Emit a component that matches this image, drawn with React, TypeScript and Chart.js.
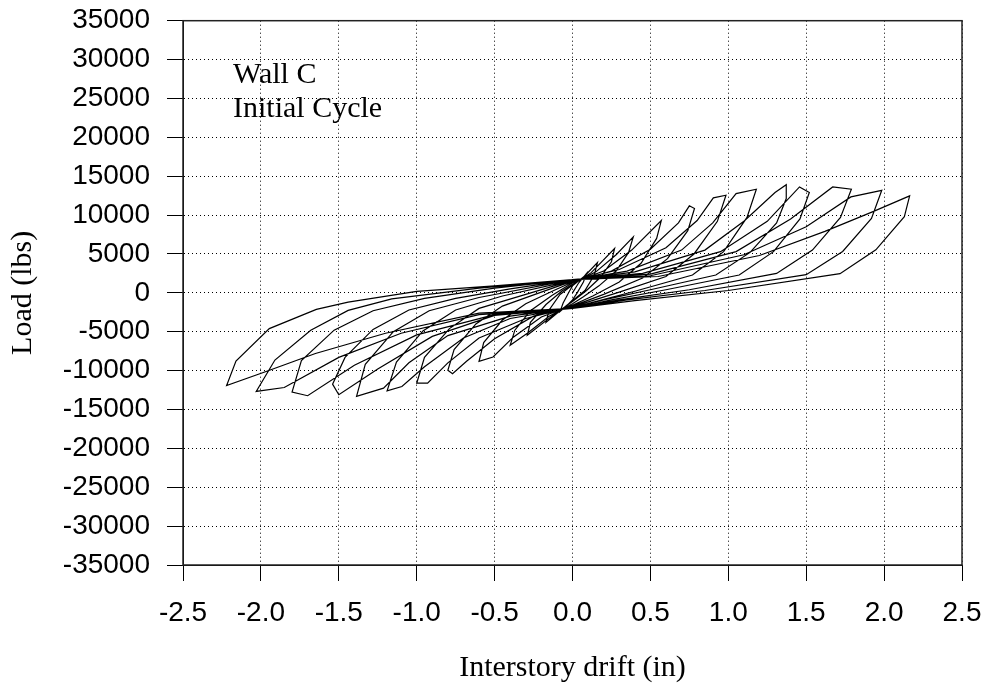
import React, { useEffect, useRef } from "react";
import { Chart, registerables } from "chart.js";

Chart.register(...registerables);

// ---- Data: hysteresis path, one cycle per amplitude (drift in inches, load in lbs) ----
const c1Drift = [0, 0.04, 0.09, 0.07, 0.03, 0, -0.04, -0.08, -0.06, -0.02, 0];
const c1Load = [0, 1300, 2500, 1400, 0, -900, -1700, -2400, -1300, 200, 900];

const c2Drift = [0, 0.08, 0.16, 0.14, 0.08, 0, -0.08, -0.17, -0.15, -0.08, 0];
const c2Load = [900, 2200, 3900, 2300, 300, -1000, -2300, -3800, -2200, -200, 1000];

const c3Drift = [0, 0.12, 0.27, 0.25, 0.18, 0.09, 0, -0.12, -0.29, -0.27, -0.17, -0.07, 0];
const c3Load = [1000, 2600, 5700, 4000, 2000, 300, -1100, -2800, -5460, -3800, -1500, 200, 1100];

const c4Drift = [0, 0.15, 0.28, 0.39, 0.36, 0.28, 0.17, 0.07, 0, -0.15, -0.29, -0.4, -0.37, -0.27, -0.13, 0];
const c4Load = [1100, 2700, 4900, 7200, 5200, 2800, 900, -500, -1400, -3000, -5200, -6750, -4800, -2300, -300, 1300];

const c5Drift = [0, 0.2, 0.38, 0.57, 0.54, 0.44, 0.3, 0.13, 0, -0.2, -0.38, -0.51, -0.6, -0.57, -0.45, -0.3, -0.12, 0];
const c5Load = [1300, 2800, 5500, 9300, 7000, 3800, 1400, -400, -1600, -3100, -5700, -8250, -8800, -6400, -3500, -1400, 300, 1400];

const c6Drift = [0, 0.25, 0.5, 0.68, 0.75, 0.783, 0.74, 0.61, 0.45, 0.2, 0, -0.25, -0.5, -0.68, -0.77, -0.8, -0.76, -0.62, -0.45, -0.2, 0];
const c6Load = [1400, 2800, 5600, 9000, 11190, 10850, 8000, 4400, 1900, -200, -1700, -3000, -5900, -8800, -10390, -9960, -7300, -4000, -1700, 100, 1500];

const c7Drift = [0, 0.3, 0.6, 0.8, 0.904, 0.985, 0.93, 0.78, 0.6, 0.3, 0, -0.3, -0.6, -0.8, -0.93, -1.0, -0.95, -0.79, -0.6, -0.3, 0];
const c7Load = [1500, 3000, 5800, 9300, 12210, 12550, 9200, 5000, 2100, 100, -1800, -3300, -5800, -9000, -11620, -11620, -8300, -4600, -2000, -200, 1600];

const c8Drift = [0, 0.35, 0.7, 0.9, 1.05, 1.18, 1.12, 0.97, 0.77, 0.4, 0, -0.4, -0.7, -0.95, -1.095, -1.19, -1.13, -0.96, -0.75, -0.45, 0];
const c8Load = [1600, 2800, 5500, 9000, 12770, 13320, 9700, 5300, 2300, 200, -1900, -3300, -5800, -9500, -12040, -12600, -8900, -4900, -2200, -400, 1600];

const c9Drift = [0, 0.4, 0.85, 1.1, 1.3, 1.372, 1.372, 1.31, 1.14, 0.92, 0.5, 0.2, 0, -0.4, -0.8, -1.05, -1.213, -1.386, -1.33, -1.15, -0.92, -0.6, 0];
const c9Load = [1600, 2700, 5500, 9200, 12900, 13900, 12130, 9000, 5200, 2300, 400, -900, -1900, -3000, -5500, -9000, -12250, -13320, -9200, -5000, -2300, -600, 1700];

const c10Drift = [0, 0.45, 0.95, 1.25, 1.457, 1.52, 1.46, 1.29, 1.07, 0.6, 0.25, 0, -0.5, -0.9, -1.25, -1.5, -1.54, -1.46, -1.28, -1.05, -0.75, -0.4, 0];
const c10Load = [1700, 2500, 5300, 9200, 13620, 12900, 9500, 5300, 2300, 400, -900, -2000, -2900, -5600, -9800, -13100, -11740, -8300, -4700, -2200, -700, 500, 1700];

const c11Drift = [0, 0.5, 1.05, 1.4, 1.67, 1.79, 1.72, 1.54, 1.31, 0.75, 0.3, 0, -0.5, -1.0, -1.4, -1.7, -1.8, -1.74, -1.53, -1.28, -0.95, -0.5, 0];
const c11Load = [1700, 2400, 5300, 9500, 13620, 13320, 9700, 5500, 2500, 400, -900, -2000, -2800, -5400, -9300, -13230, -12770, -8700, -4800, -2300, -700, 600, 1700];

const c12Drift = [0, 0.5, 1.1, 1.5, 1.787, 1.985, 1.919, 1.734, 1.5, 0.85, 0.35, 0, -0.6, -1.1, -1.5, -1.85, -2.03, -1.91, -1.68, -1.44, -1.16, -0.6, 0];
const c12Load = [1700, 2200, 4900, 8500, 12340, 13190, 9570, 5320, 2340, 300, -900, -2000, -2800, -5200, -8300, -12170, -12680, -8640, -4810, -2260, -770, 600, 1700];

const c13Drift = [0, 0.55, 1.2, 1.62, 1.925, 2.164, 2.13, 1.947, 1.717, 1.0, 0.4, 0, -0.6, -1.2, -1.65, -1.98, -2.22, -2.16, -1.946, -1.644, -1.44, -1.0, -0.5, 0];
const c13Load = [1700, 2100, 4800, 7900, 10420, 12470, 9790, 5530, 2470, 300, -1000, -2000, -2600, -5200, -7800, -10210, -11910, -8770, -4600, -2130, -1190, 200, 900, 1700];

const cycleDrifts = [c1Drift, c2Drift, c3Drift, c4Drift, c5Drift, c6Drift, c7Drift, c8Drift, c9Drift, c10Drift, c11Drift, c12Drift, c13Drift];
const cycleLoads = [c1Load, c2Load, c3Load, c4Load, c5Load, c6Load, c7Load, c8Load, c9Load, c10Load, c11Load, c12Load, c13Load];

// ---- Axes ----
const xTickValues = [-2.5, -2.0, -1.5, -1.0, -0.5, 0.0, 0.5, 1.0, 1.5, 2.0, 2.5];
const yTickValues = [-35000, -30000, -25000, -20000, -15000, -10000, -5000, 0, 5000, 10000, 15000, 20000, 25000, 30000, 35000];
const annotationLines = ["Wall C", "Initial Cycle"];

const SANS = '"Liberation Sans", Arial, Helvetica, sans-serif';
const SERIF = '"Liberation Serif", "Times New Roman", Times, serif';

export default function App() {
  const canvasRef = useRef<HTMLCanvasElement | null>(null);

  useEffect(() => {
    document.body.style.margin = "0";
    const canvas = canvasRef.current;
    if (!canvas) return;

    const points: { x: number; y: number }[] = [];
    cycleDrifts.forEach((drifts, i) => {
      const loads = cycleLoads[i];
      drifts.forEach((d, j) => points.push({ x: d, y: loads[j] }));
    });

    const framePlugin = {
      id: "frameAndText",
      afterDraw(chart: any) {
        const { ctx, chartArea } = chart;
        const { left, top, right, bottom } = chartArea;
        ctx.save();
        ctx.strokeStyle = "#222";
        ctx.lineWidth = 1.5;
        ctx.setLineDash([]);
        ctx.strokeRect(left, top, right - left, bottom - top);
        ctx.fillStyle = "#000";
        ctx.font = `30px ${SERIF}`;
        ctx.textAlign = "left";
        ctx.textBaseline = "alphabetic";
        annotationLines.forEach((t, i) => {
          ctx.fillText(t, left + 50, top + 62 + i * 34);
        });
        ctx.restore();
      },
    };

    const chart = new Chart(canvas, {
      type: "scatter",
      data: {
        datasets: [
          {
            data: points,
            showLine: true,
            borderColor: "#000",
            borderWidth: 1.2,
            pointRadius: 0,
            pointHoverRadius: 0,
            fill: false,
            tension: 0,
          } as any,
        ],
      },
      options: {
        animation: false,
        responsive: false,
        maintainAspectRatio: false,
        layout: { padding: { top: 20.7, right: 28, left: 0, bottom: 0 } },
        plugins: {
          legend: { display: false },
          tooltip: { enabled: false },
        },
        scales: {
          x: {
            type: "linear",
            min: -2.5,
            max: 2.5,
            afterBuildTicks: (scale: any) => {
              scale.ticks = xTickValues.map((v) => ({ value: v }));
            },
            afterFit: (scale: any) => {
              scale.height = 121;
              scale.paddingLeft = 0;
              scale.paddingRight = 0;
            },
            ticks: {
              callback: (v: any) => Number(v).toFixed(1),
              font: { family: SANS, size: 28 },
              color: "#000",
              padding: 15,
              maxRotation: 0,
              autoSkip: false,
            },
            grid: {
              color: "#000",
              lineWidth: 1,
              tickLength: 16,
              tickColor: "#000",
              tickWidth: 1,
              tickBorderDash: [],
            } as any,
            border: { display: true, color: "#000", width: 1, dash: [1, 3] } as any,
            title: {
              display: true,
              text: "Interstory drift (in)",
              font: { family: SERIF, size: 30 },
              color: "#000",
              padding: { top: 0, bottom: 0 },
            },
          },
          y: {
            type: "linear",
            min: -35000,
            max: 35000,
            afterBuildTicks: (scale: any) => {
              scale.ticks = yTickValues.map((v) => ({ value: v }));
            },
            afterFit: (scale: any) => {
              scale.width = 183;
              scale.paddingTop = 0;
              scale.paddingBottom = 0;
            },
            ticks: {
              callback: (v: any) => String(v),
              font: { family: SANS, size: 28 },
              color: "#000",
              padding: 17,
              autoSkip: false,
            },
            grid: {
              color: "#000",
              lineWidth: 1,
              tickLength: 16,
              tickColor: "#000",
              tickWidth: 1,
              tickBorderDash: [],
            } as any,
            border: { display: true, color: "#000", width: 1, dash: [1, 3] } as any,
            title: {
              display: true,
              text: "Load (lbs)",
              font: { family: SERIF, size: 30 },
              color: "#000",
              padding: { top: 5, bottom: 0 },
            },
          },
        },
      },
      plugins: [framePlugin],
    });

    return () => {
      chart.destroy();
    };
  }, []);

  return (
    <div style={{ width: 990, height: 686, background: "#fff" }}>
      <canvas ref={canvasRef} width={990} height={686} style={{ display: "block" }} />
    </div>
  );
}
